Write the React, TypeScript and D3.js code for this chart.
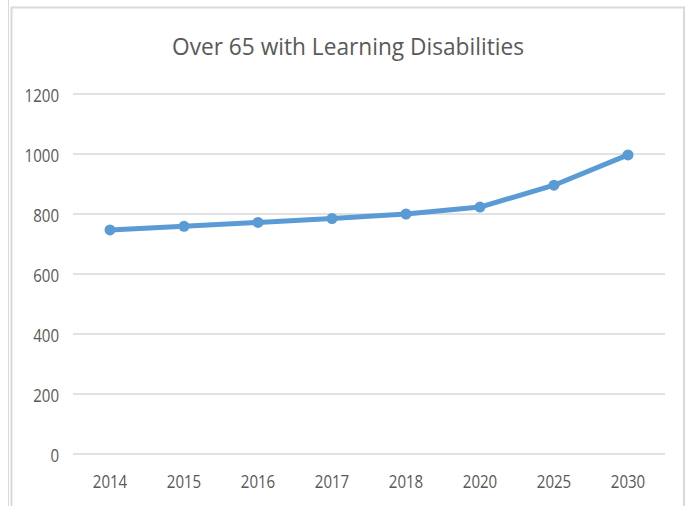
import React from "react";
import * as d3 from "d3";

const categories = ["2014", "2015", "2016", "2017", "2018", "2020", "2025", "2030"];
const values = [747, 759, 772, 785, 800, 823, 896, 997];
const yTicks = [0, 200, 400, 600, 800, 1000, 1200];
const title = "Over 65 with Learning Disabilities";

export default function App() {
  const W = 685;
  const H = 506;
  const left = 73;
  const right = 665;
  const top = 94;
  const bottom = 454;
  const x = d3.scaleBand<string>().domain(categories).range([left, right]).paddingInner(0).paddingOuter(0);
  const y = d3.scaleLinear().domain([0, 1200]).range([bottom, top]);
  const cx = (c: string) => (x(c) as number) + x.bandwidth() / 2;
  const line = d3
    .line<number>()
    .x((_, i) => cx(categories[i]))
    .y((d) => y(d));
  const font = "'Open Sans', 'Noto Sans', sans-serif";
  const digitW = 8.6;
  return (
    <svg
      width={W}
      height={H}
      style={{ position: "absolute", left: 0, top: 0, background: "#fff" }}
      fontFamily={font}
    >
      <rect x={0} y={0} width={W} height={H} fill="#fff" />
      <line x1={8.5} y1={0} x2={8.5} y2={H} stroke="#d9d9d9" strokeWidth={1} />
      <line x1={11.5} y1={7} x2={11.5} y2={H} stroke="#d9d9d9" strokeWidth={2} />
      <line x1={11} y1={7.5} x2={W} y2={7.5} stroke="#d9d9d9" strokeWidth={2} />
      <line x1={684} y1={7} x2={684} y2={H} stroke="#d9d9d9" strokeWidth={2} />
      <text
        x={348}
        y={55}
        textAnchor="middle"
        fontSize={23.5}
        fill="#595959"
        textLength={352}
        lengthAdjust="spacingAndGlyphs"
      >
        {title}
      </text>
      {yTicks.map((t) => (
        <g key={t}>
          <line x1={left} x2={right} y1={y(t)} y2={y(t)} stroke="#d9d9d9" strokeWidth={1.5} />
          <text
            x={59}
            y={y(t) + 8}
            textAnchor="end"
            fontSize={18}
            fill="#595959"
            textLength={String(t).length * digitW}
            lengthAdjust="spacingAndGlyphs"
          >
            {t}
          </text>
        </g>
      ))}
      {categories.map((c) => (
        <text
          key={c}
          x={cx(c)}
          y={488}
          textAnchor="middle"
          fontSize={18}
          fill="#595959"
          textLength={c.length * digitW}
          lengthAdjust="spacingAndGlyphs"
        >
          {c}
        </text>
      ))}
      <path d={line(values) || ""} fill="none" stroke="#5b9bd5" strokeWidth={5} strokeLinejoin="round" strokeLinecap="round" />
      {values.map((v, i) => (
        <circle key={i} cx={cx(categories[i])} cy={y(v)} r={5.5} fill="#5b9bd5" />
      ))}
    </svg>
  );
}
